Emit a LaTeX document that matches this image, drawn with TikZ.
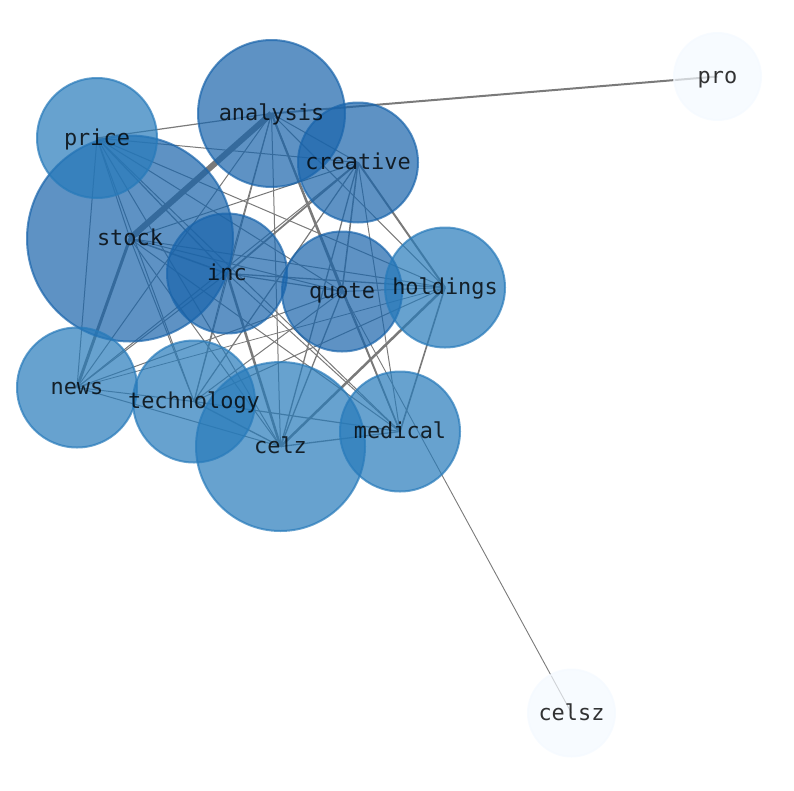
\documentclass[tikz,border=0pt]{standalone}
\usepackage{fontspec}
\newfontfamily\lblfont{DejaVu Sans Mono}
\usetikzlibrary{backgrounds}
\definecolor{ndark}{RGB}{25,100,171}
\definecolor{nlight}{RGB}{39,122,186}
\definecolor{npale}{RGB}{244,249,255}
\definecolor{edgecol}{RGB}{122,122,122}
\tikzset{
  nd/.style={circle, inner sep=0pt, line width=2pt, fill opacity=0.7, draw opacity=0.7},
  dark/.style={nd, fill=ndark, draw=ndark},
  light/.style={nd, fill=nlight, draw=nlight},
  pale/.style={nd, fill=npale, draw=npale},
  lbl/.style={font=\lblfont\fontsize{21.9}{24}\selectfont, text=black, text opacity=0.8, inner sep=0pt, anchor=base},
  ed/.style={draw=edgecol, line width=0.9pt}
}
\begin{document}
\begin{tikzpicture}[x=1pt,y=-1pt]
\useasboundingbox (0,0) rectangle (794,790);
% nodes
\node[pale,  minimum size=87pt]  (pro)        at (717.5,76.5) {};
\node[pale,  minimum size=87pt]  (celsz)      at (571.5,713) {};
\node[dark,  minimum size=206pt] (stock)      at (130,238.5) {};
\node[light, minimum size=120pt] (price)      at (97,138) {};
\node[dark,  minimum size=147pt] (analysis)   at (271.5,113.5) {};
\node[dark,  minimum size=120pt] (creative)   at (358,162.5) {};
\node[dark,  minimum size=120pt] (inc)        at (227,273.5) {};
\node[dark,  minimum size=120pt] (quote)      at (342,291.5) {};
\node[light, minimum size=120pt] (holdings)   at (445,287.5) {};
\node[light, minimum size=120pt] (news)       at (77,387.5) {};
\node[light, minimum size=169pt] (celz)       at (280.5,446.5) {};
\node[light, minimum size=122pt] (technology) at (194,401.5) {};
\node[light, minimum size=120pt] (medical)    at (400,431.5) {};
% edges below the nodes
\begin{pgfonlayer}{background}
\foreach \a/\b/\w in {
  analysis/pro/2, quote/celsz/0.9,
  analysis/stock/6, stock/news/3, holdings/celz/2.5, inc/celz/2.5,
  analysis/quote/2, creative/holdings/2, creative/inc/1.8, holdings/medical/1.6,
  analysis/medical/1.6, creative/quote/1.5, stock/inc/1.5, inc/holdings/1.3,
  technology/celz/1.3, celz/medical/1.3, creative/celz/1.3, quote/celz/1.3,
  analysis/price/1.2, analysis/creative/1, analysis/inc/1, analysis/technology/1,
  analysis/celz/1, analysis/news/1, analysis/holdings/1,
  price/stock/1, price/creative/1, price/inc/1.2, price/quote/1, price/holdings/1,
  price/news/1, price/technology/1, price/celz/1, price/medical/1,
  creative/stock/1, creative/news/1, creative/technology/1.2, creative/medical/1,
  stock/quote/1, stock/holdings/1, stock/technology/1, stock/celz/1, stock/medical/1,
  inc/quote/1.2, inc/news/1, inc/technology/1, inc/medical/1,
  quote/holdings/1, quote/news/1, quote/technology/1, quote/medical/1,
  holdings/technology/1, holdings/news/0.8,
  news/technology/1, news/celz/1, technology/medical/1.2}
  {\draw[ed, line width=\w pt] (\a.center) -- (\b.center);}
\end{pgfonlayer}
% labels
\foreach \n in {pro,celsz,stock,price,analysis,creative,inc,quote,holdings,news,celz,technology,medical}
  {\node[lbl] (l-\n) at ([yshift=-7.2pt]\n.center) {\n};}
\end{tikzpicture}
\end{document}
